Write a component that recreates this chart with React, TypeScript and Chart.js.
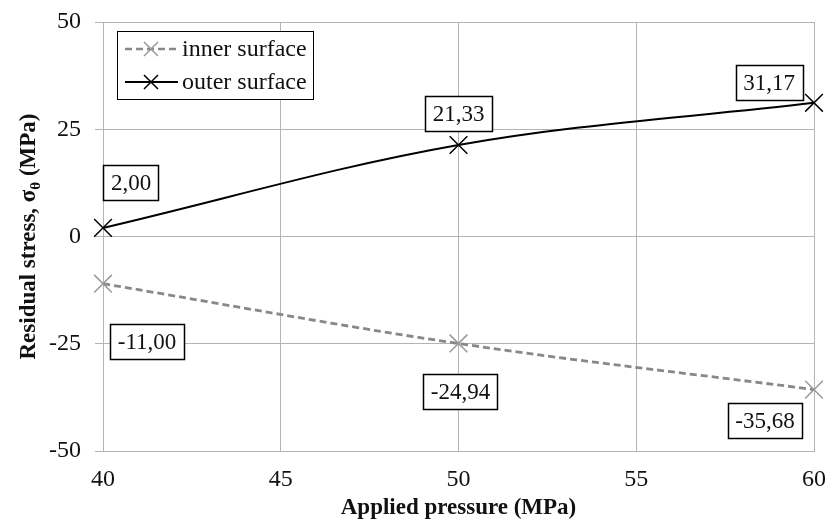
import React, { useEffect, useRef } from "react";
import { Chart, registerables } from "chart.js";

Chart.register(...registerables);

const pressures = [40, 50, 60];
const innerSurface = [-11.0, -24.94, -35.68];
const outerSurface = [2.0, 21.33, 31.17];
const xTicks = [40, 45, 50, 55, 60];
const yTicks = [-50, -25, 0, 25, 50];

// label box centre offsets (px) relative to each point
const innerLabelOffsets = [
  [44, 58],
  [2, 48],
  [-49, 31],
];
const outerLabelOffsets = [
  [28, -45],
  [0, -31],
  [-45, -20],
];

const SERIF = '"Liberation Serif", "Times New Roman", serif';
const GRID = "#b4b4b4";
const INNER_COLOR = "#888888";

const fmt = (v: number) => v.toFixed(2).replace(".", ",");

const labelPlugin = {
  id: "boxLabels",
  afterDatasetsDraw(chart: any) {
    const ctx = chart.ctx;
    ctx.save();
    ctx.font = `23px ${SERIF}`;
    ctx.textAlign = "center";
    ctx.textBaseline = "middle";
    const sets = [
      { idx: 0, vals: innerSurface, offs: innerLabelOffsets },
      { idx: 1, vals: outerSurface, offs: outerLabelOffsets },
    ];
    sets.forEach((s) => {
      const meta = chart.getDatasetMeta(s.idx);
      meta.data.forEach((pt: any, i: number) => {
        const txt = fmt(s.vals[i]);
        const cx = pt.x + s.offs[i][0];
        const cy = pt.y + s.offs[i][1];
        const w = ctx.measureText(txt).width + 15;
        const h = 35;
        ctx.fillStyle = "#fff";
        ctx.fillRect(cx - w / 2, cy - h / 2, w, h);
        ctx.strokeStyle = "#000";
        ctx.lineWidth = 1.5;
        ctx.strokeRect(Math.round(cx - w / 2) + 0.5, Math.round(cy - h / 2) + 0.5, Math.round(w), h);
        ctx.fillStyle = "#111";
        ctx.fillText(txt, cx, cy + 1);
      });
    });
    ctx.restore();
  },
};

function drawX(ctx: any, x: number, y: number, r: number, color: string) {
  ctx.save();
  ctx.strokeStyle = color;
  ctx.lineWidth = 1.5;
  ctx.setLineDash([]);
  ctx.beginPath();
  ctx.moveTo(x - r, y - r);
  ctx.lineTo(x + r, y + r);
  ctx.moveTo(x + r, y - r);
  ctx.lineTo(x - r, y + r);
  ctx.stroke();
  ctx.restore();
}

const legendTitlePlugin = {
  id: "legendTitles",
  afterDraw(chart: any) {
    const ctx = chart.ctx;
    const a = chart.chartArea;
    ctx.save();
    // legend box
    const bx = a.left + 14;
    const by = a.top + 9;
    const bw = 196;
    const bh = 68;
    ctx.fillStyle = "#fff";
    ctx.fillRect(bx, by, bw, bh);
    ctx.strokeStyle = "#000";
    ctx.lineWidth = 1;
    ctx.strokeRect(bx + 0.5, by + 0.5, bw, bh);

    const items = [
      { label: "inner surface", color: INNER_COLOR, dash: [7, 4], width: 2.5, y: by + 18, mcolor: "#999" },
      { label: "outer surface", color: "#000", dash: [], width: 2, y: by + 51, mcolor: "#000" },
    ];
    items.forEach((it) => {
      ctx.save();
      ctx.strokeStyle = it.color;
      ctx.lineWidth = it.width;
      ctx.setLineDash(it.dash);
      ctx.beginPath();
      ctx.moveTo(bx + 8, it.y);
      ctx.lineTo(bx + 61, it.y);
      ctx.stroke();
      ctx.restore();
      drawX(ctx, bx + 34, it.y, 7, it.mcolor);
      ctx.fillStyle = "#111";
      ctx.font = `24px ${SERIF}`;
      ctx.textAlign = "left";
      ctx.textBaseline = "middle";
      ctx.fillText(it.label, bx + 65, it.y + 1);
    });

    // x title
    ctx.fillStyle = "#111";
    ctx.font = `bold 23px ${SERIF}`;
    ctx.textAlign = "center";
    ctx.textBaseline = "middle";
    ctx.fillText("Applied pressure (MPa)", (a.left + a.right) / 2, 508);

    // y title with subscript theta
    ctx.save();
    ctx.translate(27, (a.top + a.bottom) / 2);
    ctx.rotate(-Math.PI / 2);
    const main = `bold 23px ${SERIF}`;
    const sub = `bold 15px ${SERIF}`;
    const p1 = "Residual stress, σ";
    const p2 = "θ";
    const p3 = " (MPa)";
    ctx.font = main;
    const w1 = ctx.measureText(p1).width;
    const w3 = ctx.measureText(p3).width;
    ctx.font = sub;
    const w2 = ctx.measureText(p2).width;
    const total = w1 + w2 + w3;
    let x = -total / 2;
    ctx.textAlign = "left";
    ctx.textBaseline = "alphabetic";
    ctx.font = main;
    ctx.fillText(p1, x, 8);
    x += w1;
    ctx.font = sub;
    ctx.fillText(p2, x, 13);
    x += w2;
    ctx.font = main;
    ctx.fillText(p3, x, 8);
    ctx.restore();

    ctx.restore();
  },
};

export default function App() {
  const ref = useRef<HTMLCanvasElement | null>(null);
  useEffect(() => {
    if (!ref.current) return;
    const chart = new Chart(ref.current, {
      type: "line",
      data: {
        datasets: [
          {
            label: "inner surface",
            data: pressures.map((p, i) => ({ x: p, y: innerSurface[i] })),
            borderColor: INNER_COLOR,
            borderWidth: 2.8,
            borderDash: [7, 4],
            pointStyle: "crossRot",
            pointRadius: 12.5,
            pointBorderColor: "#999",
            pointBorderWidth: 1.5,
            pointBackgroundColor: "transparent",
            tension: 0.35,
            clip: false,
          },
          {
            label: "outer surface",
            data: pressures.map((p, i) => ({ x: p, y: outerSurface[i] })),
            borderColor: "#000",
            borderWidth: 2,
            pointStyle: "crossRot",
            pointRadius: 12.5,
            pointBorderColor: "#000",
            pointBorderWidth: 1.5,
            pointBackgroundColor: "transparent",
            tension: 0.35,
            clip: false,
          },
        ],
      },
      options: {
        responsive: false,
        animation: false,
        layout: { padding: { top: 22, right: 12, left: 0, bottom: 0 } },
        plugins: { legend: { display: false }, tooltip: { enabled: false } },
        scales: {
          x: {
            type: "linear",
            min: 40,
            max: 60,
            afterBuildTicks: (s: any) => {
              s.ticks = xTicks.map((v) => ({ value: v }));
            },
            afterFit: (s: any) => {
              s.height = 73;
              s.paddingLeft = 0;
              s.paddingRight = 0;
            },
            ticks: { font: { family: SERIF, size: 24 }, color: "#111", padding: 14 },
            grid: { color: GRID, lineWidth: 1, drawTicks: false },
            border: { color: GRID, width: 1 },
          },
          y: {
            type: "linear",
            min: -50,
            max: 50,
            afterBuildTicks: (s: any) => {
              s.ticks = yTicks.map((v) => ({ value: v }));
            },
            afterFit: (s: any) => {
              s.width = 103;
              s.paddingTop = 0;
              s.paddingBottom = 0;
            },
            ticks: { font: { family: SERIF, size: 24 }, color: "#111", padding: 14 },
            grid: { color: GRID, lineWidth: 1, tickLength: 8 },
            border: { color: GRID, width: 1 },
          },
        },
      },
      plugins: [labelPlugin, legendTitlePlugin],
    } as any);
    return () => chart.destroy();
  }, []);
  return (
    <div style={{ position: "absolute", left: 0, top: 0, width: 828, height: 524, background: "#fff" }}>
      <canvas ref={ref} width={828} height={524} style={{ width: 828, height: 524, display: "block" }} />
    </div>
  );
}
